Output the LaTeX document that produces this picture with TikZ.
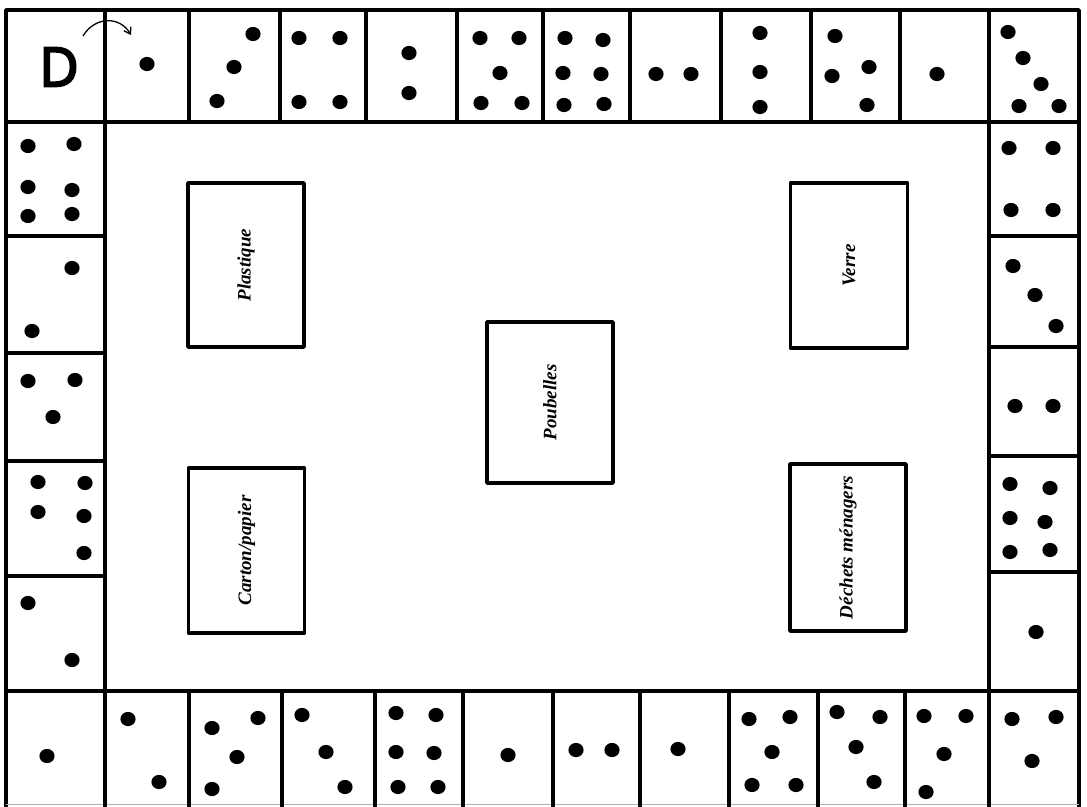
\documentclass[tikz,border=0pt]{standalone}
\usepackage{fontspec}
\setmainfont{Liberation Serif}
\newfontfamily\dfont[FakeBold=4]{Open Sans}
\usetikzlibrary{arrows.meta}
\tikzset{
  grid/.style={line width=3.7pt, line cap=round, line join=round},
  binbox/.style={draw, line width=3.8pt, line join=round, inner sep=0pt},
  binlabel/.style={rotate=90, font=\fontsize{19}{19}\selectfont\bfseries\itshape},
  pip/.style={fill=black},
}
\begin{document}
\begin{tikzpicture}[x=1pt,y=-1pt]
\useasboundingbox (0,0) rectangle (1087,806);
% outer frame and main lines
\draw[grid] (6,806) -- (6,10) -- (1079,10) -- (1079,806);
\draw[gray!60, line width=0.8pt] (6,804.5) -- (1079,804.5);
\draw[grid] (6,122) -- (1079,122);
\draw[grid] (6,691) -- (1079,691);
\draw[grid] (105,10) -- (105,806);
\draw[grid] (989,10) -- (989,806);
% left column separators
\foreach \y in {236,353,461,576} \draw[grid] (6,\y) -- (105,\y);
% right column separators
\foreach \y in {236,347,456,572} \draw[grid] (989,\y) -- (1079,\y);
% top row separators
\foreach \x in {189,280,366,457,543,630,721,811,900} \draw[grid] (\x,10) -- (\x,122);
% bottom row separators
\foreach \x in {189,282,375,463,553,640,729,818,905} \draw[grid] (\x,691) -- (\x,806);
% start cell
\node[font=\dfont\fontsize{54}{54}\selectfont, inner sep=0pt] (start) at (59,67) {D};
\coordinate (arrA) at (83,36);
\coordinate (arrB) at (131,35);
\draw[line width=1.3pt, -{Straight Barb[length=6pt,width=8pt]}] (arrA) .. controls (95,16) and (120,16) .. (arrB);
% pips
\foreach \p in {
  (147,64),
  (253,34),(234,67),(217,101),
  (299,38),(340,38),(299,102),(340,102),
  (409,53),(409,93),
  (480,38),(519,38),(500,73),(481,103),(522,103),
  (565,38),(603,40),(563,73),(601,74),(564,105),(604,104),
  (656,74),(691,74),
  (760,33),(760,72),(760,107),
  (835,36),(832,76),(869,67),(867,105),
  (937,74),
  (1008,32),(1023,58),(1041,84),(1019,106),(1059,106),
  (28,146),(74,144),(28,187),(72,190),(28,216),(72,214),
  (72,268),(32,331),
  (28,381),(75,380),(53,417),
  (38,482),(85,483),(38,512),(84,516),(84,553),
  (28,603),(72,660),
  (1009,148),(1053,148),(1011,210),(1053,210),
  (1013,266),(1035,295),(1056,326),
  (1015,406),(1053,406),
  (1010,484),(1050,488),(1010,518),(1045,522),(1010,552),(1050,550),
  (1036,632),
  (47,756),
  (128,719),(159,782),
  (212,728),(258,718),(237,757),(212,789),
  (302,715),(326,752),(345,787),
  (396,713),(436,715),(396,752),(434,753),(398,787),(438,787),
  (508,755),
  (576,750),(612,750),
  (678,749),
  (749,719),(790,717),(772,752),(752,785),(796,785),
  (837,712),(880,717),(856,747),(874,782),
  (924,716),(966,716),(944,754),(926,792),
  (1012,719),(1056,717),(1032,761)
} \fill[pip] \p ellipse (7.6pt and 7.1pt);
% bins
\node[binbox, minimum width=116pt, minimum height=164pt] (plast) at (246,265) {};
\node[binlabel] at (plast.center) {Plastique};
\node[binbox, minimum width=116pt, minimum height=165pt] (carton) at (246.5,550.5) {};
\node[binlabel] at (carton.center) {Carton/papier};
\node[binbox, minimum width=126pt, minimum height=161pt] (poub) at (550,402.5) {};
\node[binlabel] at (poub.center) {Poubelles};
\node[binbox, minimum width=117pt, minimum height=165pt] (verre) at (849,265.5) {};
\node[binlabel] at (verre.center) {Verre};
\node[binbox, minimum width=116pt, minimum height=167pt] (dechets) at (848,547.5) {};
\node[binlabel] at (dechets.center) {Déchets ménagers};
\end{tikzpicture}
\end{document}
